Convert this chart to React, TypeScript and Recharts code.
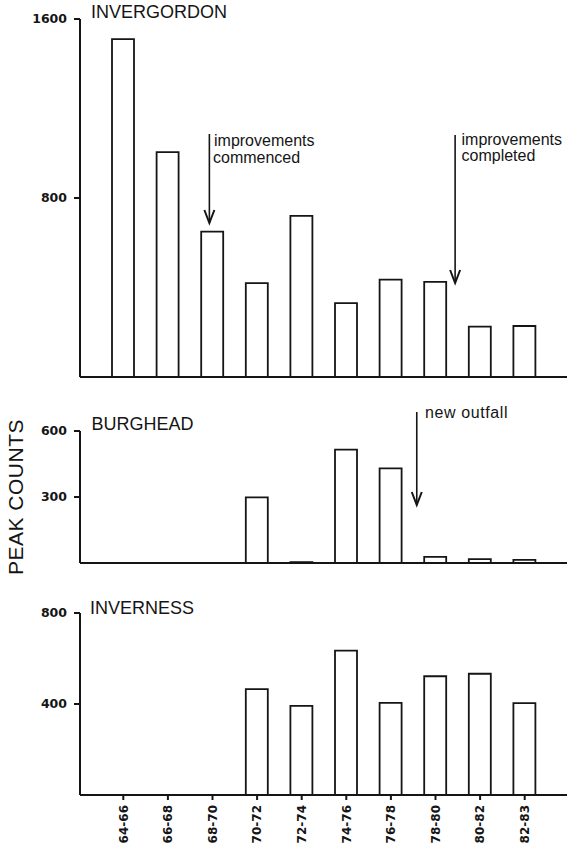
import React from 'react';
import { BarChart, Bar, XAxis, YAxis } from 'recharts';

// ---- data ----
const periods = ['64-66', '66-68', '68-70', '70-72', '72-74', '74-76', '76-78', '78-80', '80-82', '82-83'];
const invergordon = [1510, 1005, 650, 420, 720, 330, 435, 425, 225, 228];
const burghead = [null, null, null, 298, 4, 515, 430, 28, 18, 14];
const inverness = [null, null, null, 465, 392, 635, 405, 522, 533, 404];

const invergordonTicks = [800, 1600];
const burgheadTicks = [300, 600];
const invernessTicks = [400, 800];

const toRows = (vals: (number | null)[]) => periods.map((p, i) => ({ period: p, v: vals[i] }));

// ---- layout ----
const W = 571;
const H = 849;
const Y_AXIS_W = 80;
const M_RIGHT = 4;
const PAD_L = 21;
const PAD_R = 20;
const BAND_START = Y_AXIS_W + PAD_L;
const BAND = (W - M_RIGHT - Y_AXIS_W - PAD_L - PAD_R) / periods.length;
const xAt = (pos: number) => BAND_START + BAND * pos;

const INK = '#151515';
const TICK_FONT = { fontFamily: 'DejaVu Sans', fontSize: 12.5, fontWeight: 700, fill: INK };

const XTick = (props: any) => {
  const { x, y, payload } = props;
  return (
    <g transform={`translate(${x},${y})`}>
      <text
        transform="rotate(-90)"
        x={0}
        y={0}
        dy="0.36em"
        textAnchor="end"
        fontFamily="DejaVu Sans"
        fontSize={12}
        fontWeight={700}
        fill={INK}
      >
        {payload.value}
      </text>
    </g>
  );
};

type PanelProps = {
  top: number;
  marginTop: number;
  plotH: number;
  xAxisH: number;
  data: any[];
  max: number;
  ticks: number[];
  showX: boolean;
};

const Panel = ({ top, marginTop, plotH, xAxisH, data, max, ticks, showX }: PanelProps) => (
  <div style={{ position: 'absolute', left: 0, top }}>
    <BarChart
      width={W}
      height={marginTop + plotH + xAxisH}
      data={data}
      margin={{ top: marginTop, right: M_RIGHT, left: 0, bottom: 0 }}
      barCategoryGap={0}
    >
      <XAxis
        dataKey="period"
        height={xAxisH}
        padding={{ left: PAD_L, right: PAD_R }}
        axisLine={{ stroke: INK, strokeWidth: 2 }}
        tickLine={showX ? { stroke: INK, strokeWidth: 2 } : false}
        tickSize={5}
        tickMargin={5}
        interval={0}
        tick={showX ? <XTick /> : false}
      />
      <YAxis
        width={Y_AXIS_W}
        domain={[0, max]}
        ticks={ticks}
        interval={0}
        axisLine={{ stroke: INK, strokeWidth: 2 }}
        tickLine={{ stroke: INK, strokeWidth: 2 }}
        tickSize={6}
        tickMargin={7}
        tick={TICK_FONT}
      />
      <Bar dataKey="v" fill="#fff" stroke={INK} strokeWidth={1.8} barSize={22} isAnimationActive={false} />
    </BarChart>
  </div>
);

const Arrow = ({ pos, y1, y2 }: { pos: number; y1: number; y2: number }) => {
  const x = xAt(pos);
  return (
    <g stroke={INK} fill="none">
      <line x1={x} y1={y1} x2={x} y2={y2} strokeWidth={1.6} />
      <path d={`M${x - 5},${y2 - 13} L${x},${y2} L${x + 5},${y2 - 13}`} strokeWidth={2} />
    </g>
  );
};

const TEXT_FONT = 'Liberation Sans, Arial, sans-serif';

export default function App() {
  return (
    <div style={{ position: 'absolute', left: 0, top: 0, width: W, height: H, background: '#fff' }}>
      <Panel top={0} marginTop={19} plotH={358} xAxisH={5} data={toRows(invergordon)} max={1600} ticks={invergordonTicks} showX={false} />
      <Panel top={400} marginTop={31} plotH={132} xAxisH={5} data={toRows(burghead)} max={600} ticks={burgheadTicks} showX={false} />
      <Panel top={590} marginTop={23} plotH={182} xAxisH={54} data={toRows(inverness)} max={800} ticks={invernessTicks} showX={true} />
      <svg width={W} height={H} style={{ position: 'absolute', left: 0, top: 0, pointerEvents: 'none' }}>
        <g fontFamily={TEXT_FONT} fill={INK}>
          <text x={91} y={17.5} fontSize={18}>INVERGORDON</text>
          <text x={91.5} y={429.5} fontSize={18}>BURGHEAD</text>
          <text x={90} y={613.5} fontSize={18}>INVERNESS</text>

          <text x={214} y={146} fontSize={16}>improvements</text>
          <text x={213} y={162.5} fontSize={16}>commenced</text>
          <text x={461.5} y={145} fontSize={16}>improvements</text>
          <text x={461.5} y={161} fontSize={16}>completed</text>
          <text x={425} y={418} fontSize={16} letterSpacing={0.6}>new outfall</text>

          <text
            transform="translate(23,497) rotate(-90)"
            x={0}
            y={0}
            textAnchor="middle"
            fontSize={21}
            letterSpacing={0.5}
          >
            PEAK  COUNTS
          </text>
        </g>
        <Arrow pos={2.43} y1={134} y2={223} />
        <Arrow pos={7.94} y1={135} y2={283} />
        <Arrow pos={7.08} y1={412} y2={505} />
      </svg>
    </div>
  );
}
